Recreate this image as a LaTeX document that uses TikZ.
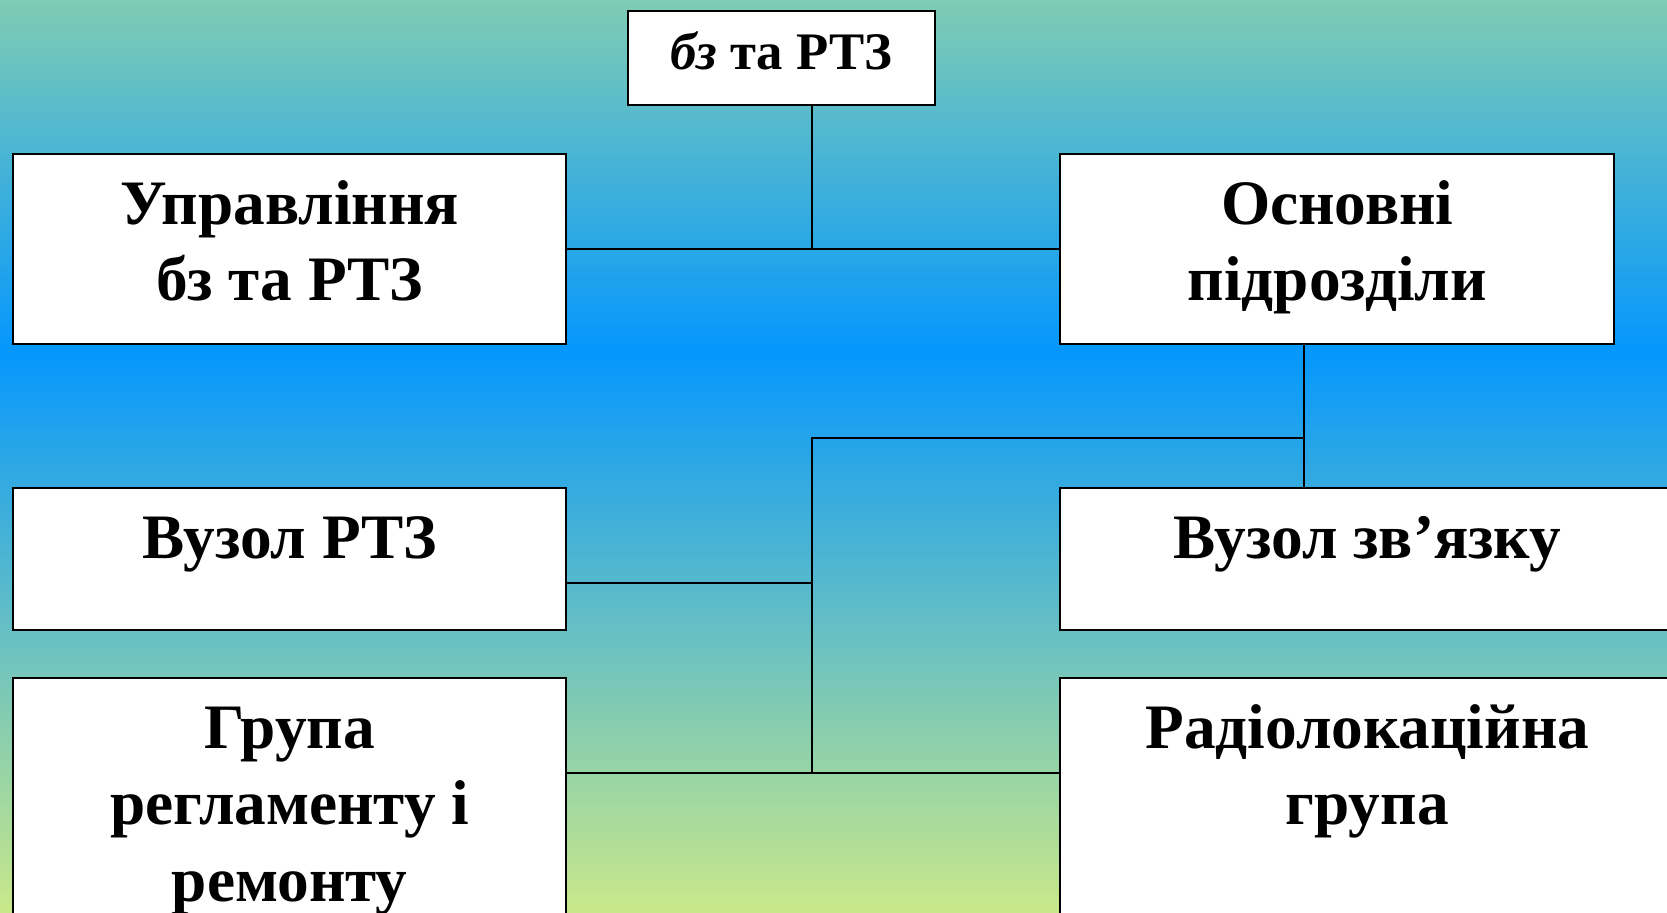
\documentclass[tikz,border=0pt]{standalone}
\usepackage{fontspec}
\setmainfont{Liberation Serif}

\definecolor{bgtop}{HTML}{80CCB4}
\definecolor{bgblue}{HTML}{0597FD}
\definecolor{bgbottom}{HTML}{C9E889}

\tikzset{
  unit/.style={draw=black, line width=0.6pt, fill=white, inner sep=0pt, anchor=north west,
    font=\bfseries\fontsize{18}{21.8}\selectfont},
  link/.style={draw=black, line width=0.6pt}
}

\newcommand{\boxtext}[3]{\parbox[c][#2][t]{#1}{\centering\rule{0pt}{0.70cm}#3}}

\begin{document}
\begin{tikzpicture}[x=0.01cm, y=-0.01cm]
			\useasboundingbox (0,0) rectangle (1667,913);
			\clip (0,0) rectangle (1667,913);
			
			% Background
			\shade[top color=bgtop, bottom color=bgblue] (0,0) rectangle (1667,351);
			\shade[top color=bgblue, bottom color=bgbottom] (0,350) rectangle (1667,913);
			
			% Head
			\node[unit, font=\bfseries\fontsize{15}{18}\selectfont] (bz) at (627,10)
				{\parbox[c][0.94cm][t]{3.07cm}{\centering\rule{0pt}{0.58cm}{\itshape бз} та РТЗ}};
			
			% First row
			\node[unit] (upr) at (12,153) {\boxtext{5.53cm}{1.90cm}{Управління\\бз та РТЗ}};
			\node[unit] (osn) at (1059,153) {\boxtext{5.54cm}{1.90cm}{Основні\\підрозділи}};
			
			% Second row
			\node[unit] (vrtz) at (12,487) {\boxtext{5.53cm}{1.42cm}{Вузол РТЗ}};
			\node[unit] (vzv) at (1059,487) {\boxtext{6.14cm}{1.42cm}{Вузол зв’язку}};
			
			% Third row
			\node[unit] (grp) at (12,677) {\boxtext{5.53cm}{2.60cm}{Група\\регламенту і\\ремонту}};
			\node[unit] (rad) at (1059,677) {\boxtext{6.14cm}{2.60cm}{Радіолокаційна\\група}};
			
			% Bus points
			\coordinate (busA) at (812,248);
			\coordinate (busB) at (1304,438);
			\coordinate (busC) at (812,438);
			\coordinate (tapV) at (812,583);
			\coordinate (tapG) at (812,773);
			
			% Links
			\draw[link] (bz.south -| busA) -- (busA);
			\draw[link] (upr.east) -- (osn.west);
			\draw[link] (osn.south -| busB) -- (vzv.north -| busB);
			\draw[link] (busB) -- (busC) -- (tapG);
			\draw[link] (tapV -| vrtz.east) -- (tapV);
			\draw[link] (tapG -| grp.east) -- (tapG -| rad.west);
		\end{tikzpicture}
\end{document}
